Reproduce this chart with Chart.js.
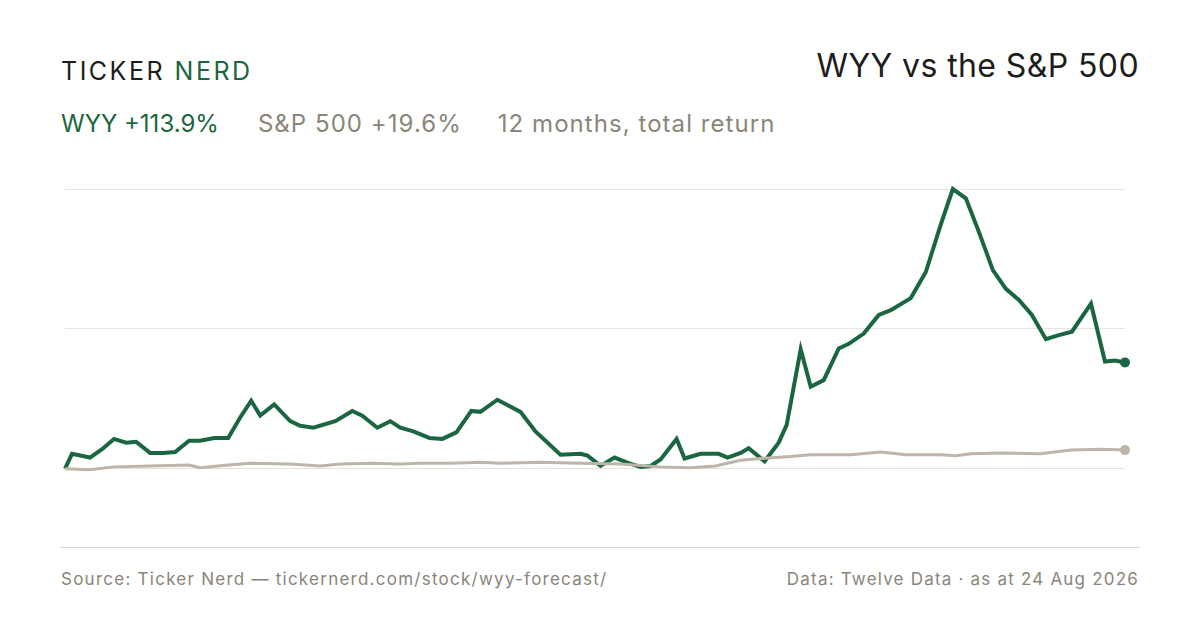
<!DOCTYPE html>
<html><head><meta charset="utf-8">
<script src="https://cdn.jsdelivr.net/npm/chart.js@4"></script>
<style>
body{margin:0;width:1200px;height:630px;background:#fff;font-family:Inter,"Noto Sans",sans-serif;position:relative;overflow:hidden}
.abs{position:absolute;white-space:nowrap}
#logo{left:61px;top:56px;font-size:25px;letter-spacing:2.5px;color:#1d1d1b}
#title{right:61px;top:46px;font-size:32px;letter-spacing:0.4px;color:#1d1d1b}
#sub{left:61px;top:109px;font-size:24px;color:#8a8578}
#sub .g{letter-spacing:1.05px}
#foot1{left:61px;top:569px;font-size:17px;letter-spacing:1.25px;color:#8a8578}
#foot2{right:61px;top:569px;font-size:17px;letter-spacing:1.2px;color:#8a8578}
#axis{left:60px;top:547px;width:1080px;height:0;border-top:1.5px solid #d9d5cc}
#wrap{left:60px;top:184px;width:1070px;height:369px}
</style></head><body>
<div class="abs" id="logo">TICKER <span style="color:#1a6640">NERD</span></div>
<div class="abs" id="title">WYY vs the S&amp;P 500</div>
<div class="abs" id="sub"><span style="color:#1a6640">WYY +113.9%</span><span class="g" style="margin-left:39px">S&amp;P 500 +19.6%</span><span class="g" style="margin-left:36px">12 months, total return</span></div>
<div class="abs" id="wrap"><canvas id="c"></canvas></div>
<div class="abs" id="axis"></div>
<div class="abs" id="foot1">Source: Ticker Nerd — tickernerd.com/stock/wyy-forecast/</div>
<div class="abs" id="foot2">Data: Twelve Data · as at 24 Aug 2026</div>
<script>
const wyyX=[65,72,90,102,114,126,136,150,163,175,189,200,214,228,240,251,260,274,290,300,313,335,352,362,377,390,400,413,429,442,456,471,480,497,520,535,560,580,587,600,614,628,640,650,660,676,684,700,718,727,740,748,764,778,786,800,810,823,838,848,863,878,890,910,925,940,952,965,978,992,1005,1018,1031,1045,1057,1071,1090,1104,1114,1124];
const wyyY=[0,16,12,21,32,28,29,17,17,18,30,30,33,33,55,73,57,69,51,46,44,51,62,57,44,51,44,40,33,32,39,62,61,74,61,40,15,16,14,3,12,6,2,3,10,32,11,16,16,12,17,22,8,28,47,128,88,95,129,134,145,165,170,183,211,262,300,290,254,213,193,181,165,139,143,147,177,115,116,114];
const spX=[65,90,114,150,189,200,228,250,290,320,340,370,400,420,450,480,500,540,580,620,660,690,715,740,760,790,810,850,880,905,940,955,970,1000,1040,1070,1100,1124];
const spY=[0,-1,2,3,4,1,4,6,5,3,5,6,5,6,6,7,6,7,6,5,2,1,3,9,11,13,15,15,18,15,15,14,16,17,16,20,21,20];
const toPts=(xs,ys)=>xs.map((x,i)=>({x:(x-65)/1059*365,y:ys[i]}));
const rad=n=>Array.from({length:n},(_,i)=>i===n-1?5:0);
new Chart(document.getElementById('c'),{type:'line',
data:{datasets:[
{data:toPts(spX,spY),borderColor:'#bcb5a8',backgroundColor:'#bcb5a8',borderWidth:3,pointRadius:rad(spX.length),pointBorderWidth:0,tension:0,clip:false},
{data:toPts(wyyX,wyyY),borderColor:'#1a6640',backgroundColor:'#1a6640',borderWidth:4,pointRadius:rad(wyyX.length),pointBorderWidth:0,tension:0,clip:false}
]},
options:{responsive:true,maintainAspectRatio:false,animation:false,layout:{padding:0},
plugins:{legend:{display:false},tooltip:{enabled:false}},
scales:{x:{type:'linear',min:0,max:365,display:false},
y:{min:-85,max:300,border:{display:false},ticks:{display:false},
afterBuildTicks:a=>{a.ticks=[{value:0},{value:150},{value:300}]},
grid:{color:'#e6e3dc',lineWidth:1,drawTicks:false}}}}});
</script></body></html>
